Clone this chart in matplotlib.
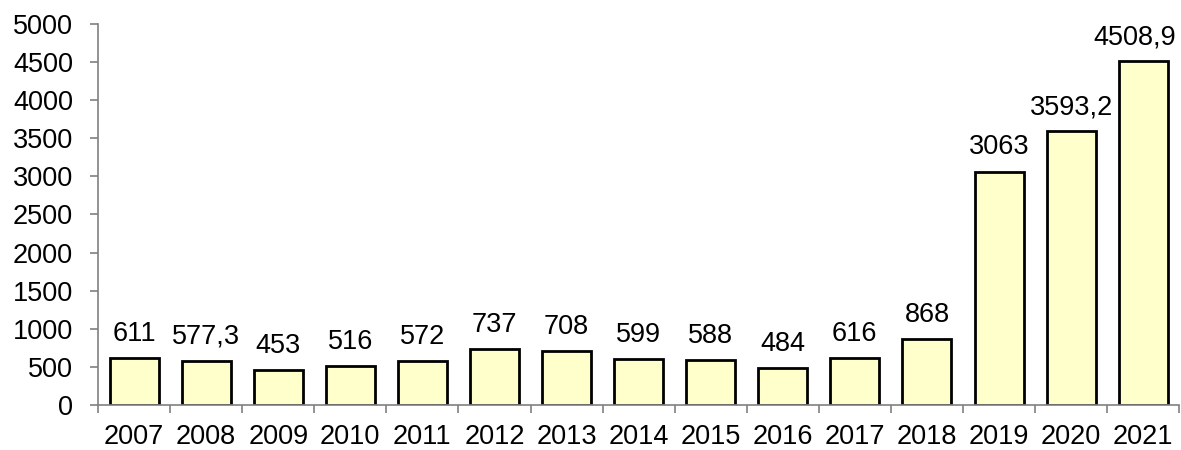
import matplotlib
matplotlib.use("Agg")
import matplotlib.pyplot as plt
import numpy as np

plt.rcParams['font.family'] = ['Liberation Sans', 'DejaVu Sans']

years = ['2007', '2008', '2009', '2010', '2011', '2012', '2013', '2014',
         '2015', '2016', '2017', '2018', '2019', '2020', '2021']
values = [611, 577.3, 453, 516, 572, 737, 708, 599, 588, 484, 616, 868,
          3063, 3593.2, 4508.9]
labels = ['611', '577,3', '453', '516', '572', '737', '708', '599', '588',
          '484', '616', '868', '3063', '3593,2', '4508,9']

fig = plt.figure(figsize=(11.81, 4.5), dpi=100)
ax = fig.add_axes([0.083, 0.1, 0.9155, 0.8467])

x = np.arange(len(years))
ax.bar(x, values, width=0.68, color='#ffffcc', edgecolor='black', linewidth=2)

for xi, v, t in zip(x, values, labels):
    dx = -6 if xi == x[-1] else 0   # last label pulled in so it fits
    ax.annotate(t, (xi, v), xytext=(dx, 8), textcoords='offset points',
                ha='center', va='bottom', fontsize=19.5)

ax.set_xlim(-0.5, len(years) - 0.5)
ax.set_ylim(0, 5000)
ax.set_yticks(np.arange(0, 5001, 500))
ax.set_xticks(x)
ax.set_xticklabels(years)
ax.set_xticks(np.arange(-0.5, len(years)), minor=True)
ax.tick_params(axis='x', which='major', length=0, labelsize=19.5, pad=14)
ax.tick_params(axis='x', which='minor', length=6, color='#808080', width=1.2)
ax.tick_params(axis='y', length=6, color='#808080', width=1.2, labelsize=19.5, pad=12)

for s in ['top', 'right']:
    ax.spines[s].set_visible(False)
ax.spines['left'].set_color('#808080')
ax.spines['bottom'].set_color('#808080')
ax.spines['left'].set_linewidth(1.2)
ax.spines['bottom'].set_linewidth(1.2)

fig.savefig('out.png', dpi=100)
